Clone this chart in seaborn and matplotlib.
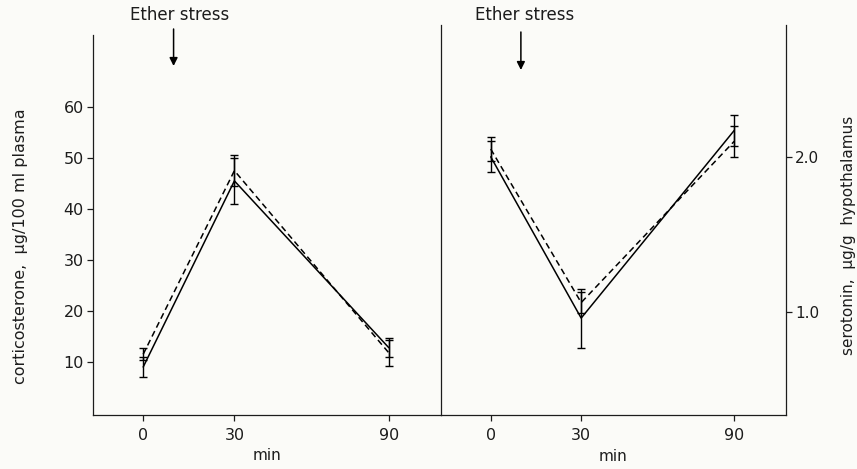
import numpy as np
import pandas as pd
import matplotlib
matplotlib.use("Agg")
import matplotlib.pyplot as plt
from matplotlib.scale import FuncScale
import seaborn as sns

# ---- data -------------------------------------------------------------
minutes = [0, 30, 90]
minute_labels = ["0", "30", "90"]

cort_solid = [9.0, 45.5, 12.8]
cort_solid_err = [2.0, 4.5, 1.8]
cort_dashed = [11.5, 47.5, 11.8]
cort_dashed_err = [1.2, 3.0, 2.5]

sero_solid = [2.00, 0.96, 2.17]
sero_solid_err = [0.10, 0.19, 0.10]
sero_dashed = [2.05, 1.06, 2.10]
sero_dashed_err = [0.08, 0.07, 0.10]

cort_ticks = [10, 20, 30, 40, 50, 60]
cort_tick_labels = ["10", "20", "30", "40", "50", "60"]
sero_ticks = [1.0, 2.0]
sero_tick_labels = ["1.0", "2.0"]

stress_minute = 10
stress_label = "Ether stress"

# ---- style ------------------------------------------------------------
sns.set_theme(style="ticks")
INK = "#1c1c1c"
BG = "#fbfbf8"
plt.rcParams["font.family"] = ["DejaVu Sans"]
plt.rcParams.update({
    "axes.edgecolor": INK, "axes.labelcolor": INK,
    "xtick.color": INK, "ytick.color": INK, "text.color": INK,
    "axes.linewidth": 0.9, "xtick.major.width": 0.9, "ytick.major.width": 0.9,
    "xtick.major.size": 4, "ytick.major.size": 4.5,
    "axes.facecolor": BG, "figure.facecolor": BG, "savefig.facecolor": BG,
})


# time axis: the first half hour is drawn stretched relative to the rest
def stretch(t):
    t = np.asarray(t, dtype=float)
    return np.where(t <= 30, t * 91.0 / 30.0, 91.0 + (t - 30.0) * 154.0 / 60.0)


def unstretch(u):
    u = np.asarray(u, dtype=float)
    return np.where(u <= 91.0, u * 30.0 / 91.0, 30.0 + (u - 91.0) * 60.0 / 154.0)


def long_frame(solid, dashed):
    return pd.DataFrame({
        "minute": minutes * 2,
        "value": list(solid) + list(dashed),
        "series": ["solid"] * len(minutes) + ["dashed"] * len(minutes),
    })


W, H = 857, 469
fig = plt.figure(figsize=(W / 100, H / 100), dpi=100)
ax_l = fig.add_axes([93 / W, 1 - 415 / H, 348 / W, 380 / H])
ax_r = fig.add_axes([441 / W, 1 - 415 / H, 345 / W, 390 / H])

panels = [
    (ax_l, cort_solid, cort_solid_err, cort_dashed, cort_dashed_err),
    (ax_r, sero_solid, sero_solid_err, sero_dashed, sero_dashed_err),
]

for ax, s, s_err, d, d_err in panels:
    ax.set_xscale(FuncScale(ax.xaxis, (stretch, unstretch)))
    sns.lineplot(data=long_frame(s, d), x="minute", y="value", style="series",
                 style_order=["solid", "dashed"],
                 dashes={"solid": "", "dashed": (4, 2.5)},
                 color="black", linewidth=1.1, legend=False, ax=ax)
    for vals, errs in ((s, s_err), (d, d_err)):
        ax.errorbar(minutes, vals, yerr=errs, fmt="none", ecolor="black",
                    elinewidth=1.0, capsize=3, capthick=1.0)
    ax.set_xlim(-16.5, 110.3)
    ax.set_xticks(minutes)
    ax.set_xticklabels(minute_labels, fontsize=11.5)
    ax.tick_params(axis="x", direction="out", pad=5)
    ax.set_xlabel("min", fontsize=11)
    ax.spines["top"].set_visible(False)
    ax.grid(False)

# left panel: corticosterone
ax_l.set_ylim(-0.4, 74.1)
ax_l.set_yticks(cort_ticks)
ax_l.set_yticklabels(cort_tick_labels, fontsize=11.5)
ax_l.tick_params(axis="y", direction="out", pad=2)
ax_l.spines["right"].set_visible(False)
ax_l.set_ylabel("corticosterone,  µg/100 ml plasma", fontsize=11.5)
ax_l.yaxis.set_label_coords(-0.188, 0.445)
ax_l.xaxis.set_label_coords(0.5, -0.088)

# right panel: serotonin, axis drawn on the right
ax_r.set_ylim(0.335, 2.85)
ax_r.yaxis.tick_right()
ax_r.yaxis.set_label_position("right")
ax_r.set_yticks(sero_ticks)
ax_r.set_yticklabels(sero_tick_labels, fontsize=11)
ax_r.tick_params(axis="y", direction="out", pad=2)
ax_r.set_ylabel("serotonin,  µg/g  hypothalamus", fontsize=11)
ax_r.yaxis.set_label_coords(1.16, 0.46)
ax_r.xaxis.set_label_coords(0.5, -0.086)

# stress markers above each panel
for ax, tail_px, head_px, text_dx in ((ax_l, 440, 403, 6), (ax_r, 437, 399, 4)):
    ax.annotate("", xy=(stress_minute, head_px), xytext=(stress_minute, tail_px),
                xycoords=("data", "figure pixels"), textcoords=("data", "figure pixels"),
                arrowprops=dict(arrowstyle="-|>", color="black", lw=1.1,
                                mutation_scale=12, shrinkA=0, shrinkB=0),
                annotation_clip=False)
    ax.annotate(stress_label, xy=(stress_minute, 454), xycoords=("data", "figure pixels"),
                xytext=(text_dx, 0), textcoords="offset pixels",
                ha="center", va="center", fontsize=12, annotation_clip=False)

fig.savefig("out.png", dpi=100)
